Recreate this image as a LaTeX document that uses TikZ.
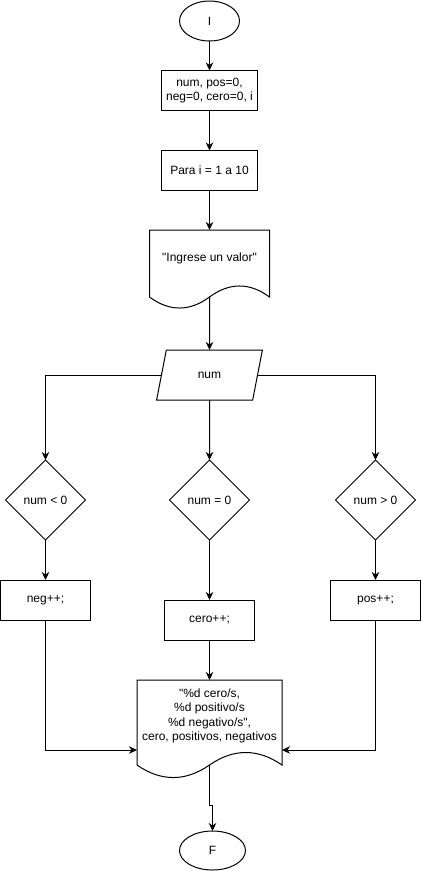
\documentclass[tikz,border=0pt]{standalone}
\usepackage{fontspec}
\setmainfont{Liberation Sans}[Ligatures=TeXOff]
\usetikzlibrary{positioning,shapes.geometric,arrows.meta}

% outline of a document symbol: node, side drop, wave control dx, dy
\newcommand{\docoutline}[4]{%
  \draw[line width=1pt] (#1.north west) -- (#1.north east) -- ([yshift=-#2]#1.south east)
    .. controls +(-#3,#4) and +(#3,#4) .. ([yshift=-#2]#1.south)
    .. controls +(-#3,-#4) and +(#3,-#4) .. ([yshift=-#2]#1.south west) -- cycle;}

\tikzset{
  every node/.style={font=\fontsize{12}{14.4}\selectfont, inner sep=0pt, outer sep=0pt, align=center},
  terminal/.style={ellipse, draw, line width=1pt, minimum width=60pt, minimum height=40pt},
  procbox/.style={rectangle, draw, line width=1pt, minimum width=90pt, minimum height=40pt},
  docbox/.style={rectangle, minimum width=#1},
  inbox/.style={trapezium, draw, line width=1pt, trapezium left angle=68.2,
    trapezium right angle=111.8, trapezium stretches=true,
    minimum width=106pt, minimum height=50pt},
  decision/.style={diamond, draw, line width=1pt, minimum width=80pt, minimum height=80pt},
  arr/.style={line width=1pt, -{Stealth[length=8pt,width=7.5pt,inset=2.5pt]}},
}

\begin{document}
\begin{tikzpicture}[x=1pt, y=-1pt]
  \useasboundingbox (0,0) rectangle (421,871);

  % Define nodes
  \node[terminal] (start) at (209.5,21) {I};
  \node[procbox, minimum width=96pt, below=29.5pt of start] (init) {num, pos=0,\\neg=0, cero=0, i};
  \node[procbox, minimum width=96pt, below=40pt of init] (para) {Para i = 1 a 10};
  \node[docbox=120pt, minimum height=56pt, below=39.5pt of para] (ask) {"Ingrese un valor"};
  \node[inbox, below=64pt of ask] (num) {num};

  \node[decision, below=60pt of num] (eq) {num = 0};
  \node[decision, left=84pt of eq] (ltz) {num < 0};
  \node[decision, right=86pt of eq] (gtz) {num > 0};

  \node[procbox, below=40pt of ltz] (neg) {neg++;};
  \node[procbox, below=60pt of eq] (cero) {cero++;};
  \node[procbox, below=40pt of gtz] (pos) {pos++;};

  \node[docbox=145pt, minimum height=72pt, below=40pt of cero] (out)
    {"\%d cero/s,\\\%d positivo/s\\\%d negativo/s",\\cero, positivos, negativos};
  \node[terminal, minimum width=66pt, minimum height=39pt, below=79pt of out, xshift=3pt] (fin) {F};

  \docoutline{ask}{11pt}{20pt}{14.7pt}
  \docoutline{out}{13pt}{24pt}{16.7pt}

  % Connect the nodes
  \draw[arr] (start) -- (init);
  \draw[arr] (init) -- (para);
  \draw[arr] (para) -- (ask);
  \draw[arr] ([yshift=-11pt]ask.south) -- (num);

  \draw[arr] (num.west) -| (ltz.north);
  \draw[arr] (num) -- (eq);
  \draw[arr] (num.east) -| (gtz.north);

  \draw[arr] (ltz) -- (neg);
  \draw[arr] (eq) -- (cero);
  \draw[arr] (gtz) -- (pos);

  \draw[arr] (cero) -- (out);
  \draw[arr] (neg) |- ([yshift=2pt]out.south west);
  \draw[arr] (pos) |- ([yshift=2pt]out.south east);
  \draw[arr] ([yshift=-13pt]out.south) -- ++(0,40) -| (fin);

\end{tikzpicture}
\end{document}
